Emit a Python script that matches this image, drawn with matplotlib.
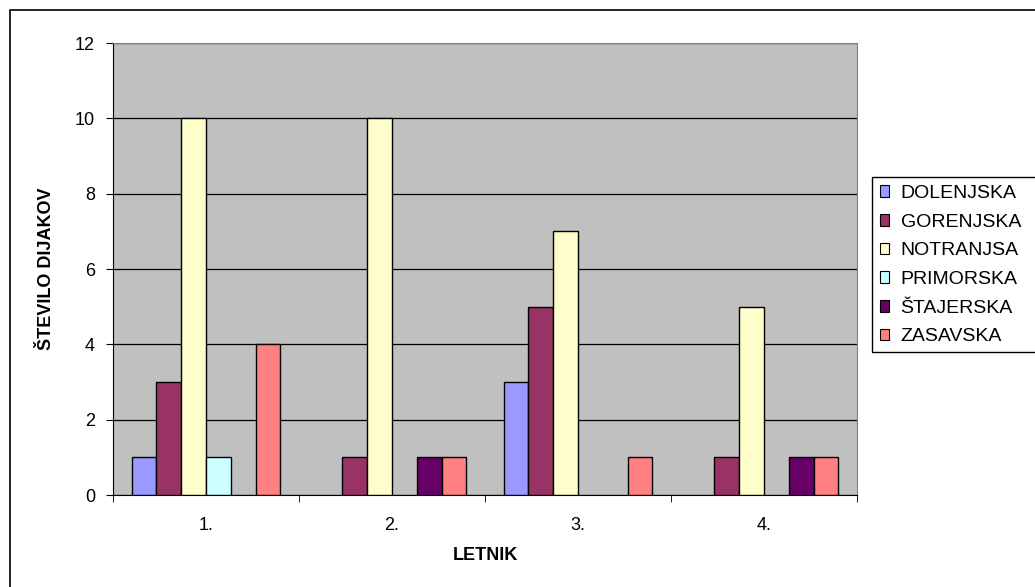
import matplotlib
matplotlib.use("Agg")
import matplotlib.pyplot as plt
from matplotlib.patches import Rectangle, Patch
import numpy as np

plt.rcParams['font.family'] = ['Liberation Sans', 'DejaVu Sans']

# data
letniki = ['1.', '2.', '3.', '4.']
regije = ['DOLENJSKA', 'GORENJSKA', 'NOTRANJSA', 'PRIMORSKA', 'ŠTAJERSKA', 'ZASAVSKA']
dolenjska = [1, 0, 3, 0]
gorenjska = [3, 1, 5, 1]
notranjska = [10, 10, 7, 5]
primorska = [1, 0, 0, 0]
stajerska = [0, 1, 0, 1]
zasavska = [4, 1, 1, 1]
serije = [dolenjska, gorenjska, notranjska, primorska, stajerska, zasavska]
barve = ['#9999FF', '#993366', '#FFFFCC', '#CCFFFF', '#660066', '#FF8080']

W, H = 1035, 587
fig = plt.figure(figsize=(W / 100, H / 100), dpi=100)
ax = fig.add_axes([113 / W, 1 - 495 / H, 744 / W, 452 / H])
ax.set_facecolor('#C0C0C0')

n = len(serije)
gap = 1.5  # excel gap width 150%
bw = 1 / (n + gap)
x = np.arange(len(letniki))
for i, (vals, c) in enumerate(zip(serije, barve)):
    pos = x - 0.5 + gap * bw / 2 + (i + 0.5) * bw
    lw = [1.0 if v > 0 else 0 for v in vals]
    ax.bar(pos, vals, width=bw, color=c, edgecolor='black', linewidth=lw, zorder=3)

ax.set_xlim(-0.5, len(letniki) - 0.5)
ax.set_ylim(0, 12)
ax.set_yticks(range(0, 13, 2))
ax.yaxis.grid(True, color='black', linewidth=0.9, zorder=1)
ax.set_axisbelow(True)

ax.set_xticks(x)
ax.set_xticklabels(letniki)
ax.set_xticks(np.arange(-0.5, len(letniki), 1), minor=True)
ax.tick_params(axis='x', which='major', length=0, pad=16, labelsize=13)
ax.tick_params(axis='x', which='minor', length=5, direction='out', color='black')
ax.tick_params(axis='y', length=5, direction='out', labelsize=13, pad=8)

for s in ['top', 'right']:
    ax.spines[s].set_color('#808080')
    ax.spines[s].set_linewidth(0.8)
ax.spines['left'].set_color('black')
ax.spines['bottom'].set_color('black')

ax.set_xlabel('LETNIK', fontsize=13, fontweight='bold', labelpad=9)
ax.set_ylabel('ŠTEVILO DIJAKOV', fontsize=13, fontweight='bold', labelpad=14)

handles = [Patch(facecolor=c, edgecolor='black', linewidth=0.8) for c in barve]
fig.legend(handles, regije, loc='upper left', bbox_to_anchor=(880 / W, 1 - 185 / H),
           frameon=False, fontsize=14, handlelength=0.46, handleheight=0.55,
           handletextpad=0.6, labelspacing=0.6, borderpad=0, borderaxespad=0)

# legend frame and outer chart frame (cut off on right/bottom)
fig.patches.append(Rectangle((872 / W, 1 - 352 / H), 200 / W, 175 / H,
                             transform=fig.transFigure, fill=False,
                             edgecolor='black', linewidth=1))
fig.patches.append(Rectangle((10 / W, -0.1), 1.2, 1.1 - 10 / H,
                             transform=fig.transFigure, fill=False,
                             edgecolor='black', linewidth=1.2))

fig.savefig('out.png', dpi=100)
